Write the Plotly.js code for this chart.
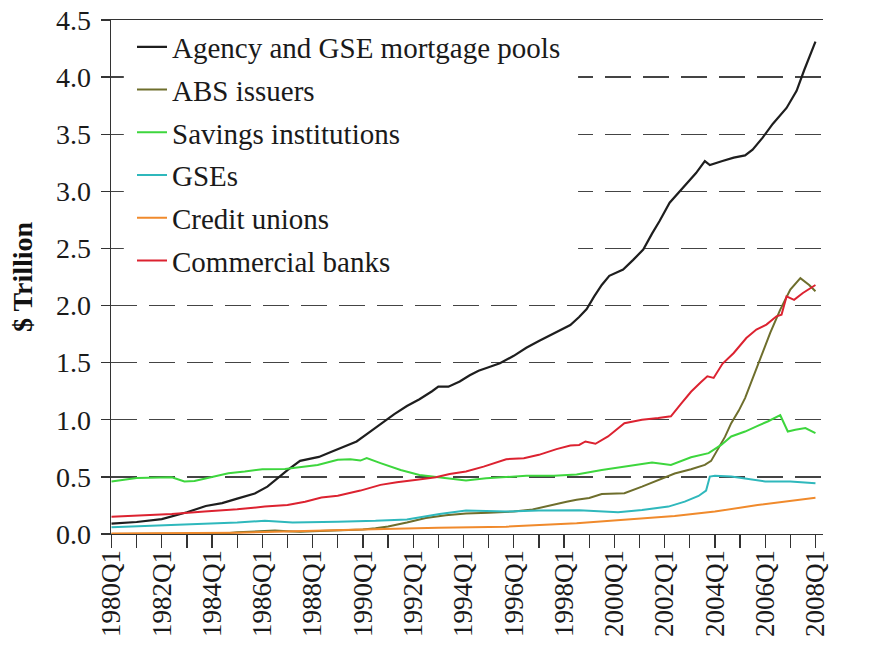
<!DOCTYPE html>
<html>
<head>
<meta charset="utf-8">
<script src="https://cdn.plot.ly/plotly-3.0.1.min.js"></script>
<style>
  html, body { margin: 0; padding: 0; background: #ffffff; }
  #chart { width: 884px; height: 656px; }
</style>
</head>
<body>
<div id="chart"></div>
<script>
// ---- Data (values in $ trillion, x in decimal years; 1980.0 = 1980Q1) ----
const seriesNames = [
  "Agency and GSE mortgage pools",
  "ABS issuers",
  "Savings institutions",
  "GSEs",
  "Credit unions",
  "Commercial banks"
];

const agencyX = [1980.0,1981.0,1982.0,1983.0,1983.75,1984.4,1985.0,1985.7,1986.2,1986.6,1987.0,1987.5,1988.0,1988.25,1988.75,1989.25,1989.75,1990.25,1990.75,1991.25,1991.75,1992.25,1992.75,1993.0,1993.4,1993.85,1994.25,1994.6,1995.0,1995.45,1996.0,1996.5,1997.0,1997.5,1998.0,1998.25,1998.6,1998.9,1999.2,1999.5,1999.8,2000.35,2000.75,2001.15,2001.5,2001.8,2002.2,2002.5,2002.85,2003.25,2003.6,2003.8,2004.3,2004.75,2005.2,2005.5,2005.9,2006.3,2006.85,2007.25,2007.55,2008.0];
const agencyY = [0.09,0.105,0.13,0.19,0.245,0.27,0.31,0.355,0.415,0.49,0.56,0.64,0.665,0.675,0.72,0.765,0.81,0.89,0.97,1.05,1.12,1.18,1.25,1.29,1.29,1.335,1.39,1.43,1.46,1.495,1.56,1.63,1.69,1.745,1.80,1.83,1.90,1.97,2.08,2.18,2.26,2.315,2.40,2.49,2.63,2.74,2.90,2.975,3.06,3.16,3.265,3.23,3.265,3.295,3.315,3.365,3.47,3.59,3.73,3.88,4.06,4.31];

const absX = [1980.0,1984.5,1985.0,1985.75,1986.5,1987.0,1987.5,1988.0,1989.0,1990.0,1990.5,1991.0,1991.75,1992.5,1993.3,1994.1,1995.0,1996.0,1996.75,1997.4,1998.1,1998.5,1999.0,1999.5,2000.4,2001.1,2001.75,2002.4,2003.05,2003.6,2003.85,2004.1,2004.4,2004.65,2004.95,2005.2,2005.45,2005.8,2006.2,2006.6,2007.0,2007.4,2007.75,2008.0];
const absY = [0.0,0.005,0.015,0.025,0.03,0.025,0.02,0.025,0.03,0.04,0.05,0.065,0.10,0.14,0.165,0.18,0.187,0.196,0.215,0.25,0.283,0.30,0.315,0.35,0.357,0.415,0.475,0.53,0.567,0.605,0.64,0.73,0.85,0.97,1.08,1.19,1.33,1.526,1.76,1.965,2.14,2.24,2.18,2.125];

const savingsX = [1980.0,1981.0,1982.4,1982.9,1983.3,1984.0,1984.65,1985.3,1986.0,1986.9,1987.7,1988.2,1989.0,1989.5,1989.9,1990.15,1990.7,1991.5,1992.25,1993.05,1994.1,1994.9,1995.7,1996.5,1997.6,1998.5,1999.5,2000.4,2001.5,2002.25,2003.05,2003.75,2004.25,2004.65,2005.2,2005.7,2006.1,2006.6,2006.9,2007.2,2007.6,2008.0];
const savingsY = [0.46,0.49,0.497,0.46,0.465,0.497,0.532,0.547,0.567,0.57,0.59,0.605,0.65,0.655,0.643,0.664,0.62,0.56,0.517,0.497,0.468,0.488,0.497,0.51,0.51,0.52,0.56,0.59,0.625,0.605,0.672,0.708,0.78,0.854,0.897,0.947,0.985,1.04,0.897,0.912,0.927,0.883];

const gseX = [1980.0,1981.7,1983.7,1985.0,1986.1,1987.2,1989.0,1990.5,1991.75,1993.05,1994.1,1995.7,1997.0,1998.6,2000.15,2001.1,2002.15,2002.8,2003.35,2003.65,2003.8,2004.0,2004.65,2005.3,2006.0,2007.0,2008.0];
const gseY = [0.059,0.073,0.094,0.10,0.117,0.10,0.108,0.115,0.128,0.175,0.205,0.196,0.205,0.207,0.19,0.21,0.24,0.283,0.333,0.38,0.503,0.51,0.503,0.48,0.46,0.46,0.444];

const creditX = [1980.0,1983.0,1985.0,1986.5,1988.0,1990.0,1993.0,1995.7,1998.5,2000.4,2002.4,2004.0,2005.7,2008.0];
const creditY = [0.005,0.008,0.012,0.02,0.03,0.04,0.055,0.064,0.095,0.123,0.158,0.196,0.254,0.318];

const banksX = [1980.0,1981.0,1982.4,1983.7,1985.0,1986.1,1987.0,1987.7,1988.35,1989.0,1989.9,1990.7,1991.35,1992.15,1992.9,1993.45,1994.1,1994.8,1995.7,1996.4,1997.0,1997.7,1998.25,1998.6,1998.85,1999.25,1999.75,2000.4,2001.1,2001.75,2002.25,2002.65,2003.05,2003.45,2003.7,2003.95,2004.3,2004.75,2005.25,2005.65,2006.05,2006.45,2006.65,2006.85,2007.15,2007.5,2008.0];
const banksY = [0.152,0.16,0.175,0.196,0.216,0.24,0.254,0.283,0.32,0.335,0.38,0.43,0.453,0.474,0.497,0.526,0.547,0.59,0.655,0.664,0.693,0.743,0.775,0.78,0.81,0.79,0.854,0.97,1.0,1.015,1.03,1.14,1.245,1.33,1.38,1.366,1.49,1.585,1.716,1.79,1.833,1.906,1.92,2.08,2.05,2.11,2.18];

const xTickVals = [1980,1982,1984,1986,1988,1990,1992,1994,1996,1998,2000,2002,2004,2006,2008];
const xTickLabels = ["1980Q1","1982Q1","1984Q1","1986Q1","1988Q1","1990Q1","1992Q1","1994Q1","1996Q1","1998Q1","2000Q1","2002Q1","2004Q1","2006Q1","2008Q1"];

// ---- Styles ----
const colors = ["#1e1e1e", "#6e6e2c", "#3dd63d", "#2fb8bc", "#f08a2c", "#dc2230"];
const serif = "Liberation Serif";
const axisColor = "#333333";

const xs = [agencyX, absX, savingsX, gseX, creditX, banksX];
const ys = [agencyY, absY, savingsY, gseY, creditY, banksY];

const traces = seriesNames.map((name, i) => ({
  type: "scatter",
  mode: "lines",
  name: name,
  x: xs[i],
  y: ys[i],
  legendgroup: "g" + i,
  line: { color: colors[i], width: i === 0 ? 2.2 : 2 },
  hoverinfo: "skip"
}));

const yRange = [0, 4.5];
const tickFontY = { family: serif, size: 28, color: "#1a1a1a" };

function tickAxis(side, ticks, len, color) {
  return {
    range: yRange, dtick: 0.5, tick0: 0, overlaying: "y", anchor: "x", side: side,
    ticks: ticks, ticklen: len, tickwidth: 1.3, tickcolor: color,
    showticklabels: false, showgrid: false, zeroline: false, showline: false
  };
}

const layout = {
  width: 884,
  height: 656,
  margin: { l: 111, r: 61, t: 20, b: 122 },
  paper_bgcolor: "#ffffff",
  plot_bgcolor: "#ffffff",
  font: { family: serif, size: 28, color: "#1a1a1a" },
  showlegend: true,
  legend: {
    x: 0, xanchor: "left",
    y: 0.997, yanchor: "top",
    bgcolor: "rgba(0,0,0,0)",
    borderwidth: 0,
    indentation: 21,
    tracegroupgap: 2,
    font: { family: serif, size: 29, color: "#1a1a1a" }
  },
  // white legend panel (hides the gridlines behind the legend, as in the original)
  shapes: [{
    type: "rect", xref: "paper", yref: "paper", layer: "above",
    x0: 0.018, x1: 0.656, y0: 0.479, y1: 0.994,
    line: { width: 0 }, fillcolor: "#ffffff"
  }],
  xaxis: {
    range: [1979.98, 2008.3],
    tickmode: "array",
    tickvals: xTickVals,
    ticktext: xTickLabels,
    tickangle: -90,
    ticks: "outside",
    ticklen: 13,
    tickwidth: 1.3,
    tickcolor: axisColor,
    ticklabelstandoff: -9,
    minor: { tick0: 1980, dtick: 1, ticks: "outside", ticklen: 13, tickwidth: 1.3, tickcolor: axisColor, showgrid: false },
    showline: true,
    linecolor: axisColor,
    linewidth: 1.3,
    mirror: true,
    showgrid: false,
    zeroline: false,
    tickfont: { family: serif, size: 27, color: "#1a1a1a" }
  },
  yaxis: {
    range: yRange,
    dtick: 0.5,
    tick0: 0,
    tickformat: ".1f",
    ticks: "outside",
    ticklen: 9,
    tickwidth: 1.3,
    tickcolor: axisColor,
    ticklabelstandoff: 4,
    showline: true,
    linecolor: axisColor,
    linewidth: 1.3,
    showgrid: true,
    gridcolor: "#444444",
    gridwidth: 1.3,
    griddash: "26px,12px",
    zeroline: false,
    tickfont: tickFontY,
    title: { text: "$ Trillion", standoff: 15, font: { family: serif, size: 28, color: "#111111", weight: "bold" } }
  },
  yaxis2: tickAxis("left", "inside", 11, axisColor),
  yaxis3: {
    range: yRange, dtick: 0.5, tick0: 0, overlaying: "y", anchor: "x", side: "right",
    tickformat: ".1f",
    ticks: "outside", ticklen: 14, tickwidth: 1.3, tickcolor: "rgba(0,0,0,0)",
    showticklabels: true, showgrid: false, zeroline: false,
    showline: true, linecolor: axisColor, linewidth: 1.3,
    tickfont: tickFontY
  },
  yaxis4: tickAxis("right", "inside", 10, axisColor),
  yaxis5: tickAxis("right", "outside", 5, axisColor)
};

Plotly.newPlot("chart", traces, layout, { displayModeBar: false, staticPlot: true });
</script>
</body>
</html>
